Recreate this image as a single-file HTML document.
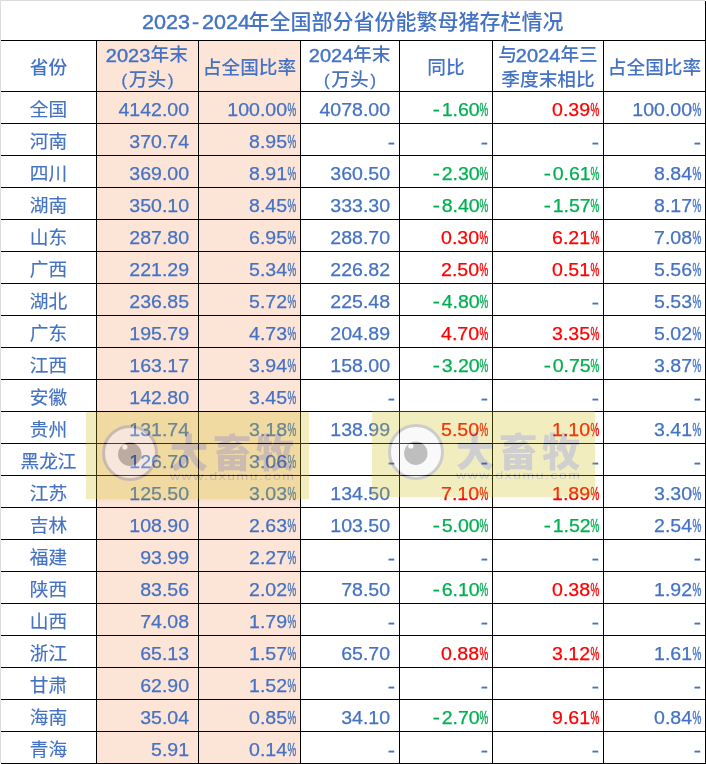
<!DOCTYPE html><html lang="zh-CN"><head><meta charset="utf-8"><title>2023-2024年全国部分省份能繁母猪存栏情况</title>
<style>
html,body{margin:0;padding:0;background:#fff;}
body{width:706px;height:764px;position:relative;overflow:hidden;font-family:"Liberation Sans","Noto Sans CJK SC",sans-serif;color:#4472c4;}
.a{position:absolute;}
.l{position:absolute;background:#000;}
.bg{position:absolute;background:#fce4d6;}
.c{position:absolute;white-space:nowrap;height:32px;line-height:32px;font-size:18.7px;}
.p{text-align:center;font-family:"Noto Sans CJK SC",sans-serif;-webkit-text-stroke:0.15px currentColor;}
.r{text-align:right;}
.n{display:inline-block;position:relative;top:2px;font-family:"Liberation Sans",sans-serif;font-size:18px;transform:scaleX(1.085);transform-origin:100% 50%;-webkit-text-stroke:0.25px currentColor;}
.k{display:inline-block;position:relative;top:1.5px;width:8.3px;text-align:right;direction:rtl;font-family:"Liberation Sans",sans-serif;font-size:18.5px;transform:scaleX(0.53);transform-origin:100% 50%;-webkit-text-stroke:0.45px currentColor;}
.n.z{top:2.9px;transform:scaleX(1.2152);}
.m{display:inline-block;font-style:normal;margin-right:1.7px;transform:scaleX(1.1);transform-origin:100% 50%;}
.g{color:#00b050;}.d{color:#ff0000;}
.h{position:absolute;text-align:center;white-space:nowrap;font-weight:500;font-size:18.7px;line-height:24.4px;font-family:"Liberation Sans","Noto Sans CJK SC",sans-serif;}
.h .e{display:inline-block;position:relative;top:1px;font-size:18px;transform:scaleX(1.11);transform-origin:50% 50%;margin:0 2.5px 0 1px;-webkit-text-stroke:0.4px currentColor;}
.h .pr{display:inline-block;position:relative;top:0px;font-size:16.5px;margin:0 1.8px;-webkit-text-stroke:0.3px currentColor;}
.t{position:absolute;left:0;width:706px;text-align:center;white-space:nowrap;font-weight:500;font-size:21px;line-height:40px;top:1px;height:40px;}
.e2{position:absolute;top:0.6px;font-size:19.5px;transform:scaleX(1.107);transform-origin:0 50%;-webkit-text-stroke:0.4px currentColor;}
.e2.hy{transform:scaleX(1.1);}
.tc{position:absolute;top:0.8px;font-size:21px;letter-spacing:0px;}
.wm{position:absolute;background:#d3c016;opacity:.27;overflow:hidden;box-shadow:0 2px 3px rgba(0,0,0,.12);}
.wm .lg{position:absolute;}
.wt{position:absolute;left:83.8px;top:9.8px;font-family:"Noto Sans CJK SC",sans-serif;font-weight:900;font-size:38.5px;line-height:56px;letter-spacing:4.6px;color:#505050;white-space:nowrap;}
.wu{position:absolute;left:84px;top:57.4px;font-family:"Liberation Sans",sans-serif;font-size:11px;line-height:14px;letter-spacing:1.2px;color:#444;white-space:nowrap;transform:scaleX(1.27);transform-origin:0 50%;}
</style></head><body>
<div class="a" style="left:0;top:0;width:705px;height:1px;background:#dcdcdc"></div>
<div class="a" style="left:0;top:0;width:1px;height:763px;background:#dcdcdc"></div>
<div class="bg" style="left:97px;top:41px;width:203px;height:722px"></div>
<div class="l" style="left:1px;top:40px;width:705px;height:1px"></div>
<div class="l" style="left:1px;top:91px;width:705px;height:1px"></div>
<div class="l" style="left:1px;top:123px;width:705px;height:1px"></div>
<div class="l" style="left:1px;top:155px;width:705px;height:1px"></div>
<div class="l" style="left:1px;top:187px;width:705px;height:1px"></div>
<div class="l" style="left:1px;top:219px;width:705px;height:1px"></div>
<div class="l" style="left:1px;top:251px;width:705px;height:1px"></div>
<div class="l" style="left:1px;top:283px;width:705px;height:1px"></div>
<div class="l" style="left:1px;top:315px;width:705px;height:1px"></div>
<div class="l" style="left:1px;top:347px;width:705px;height:1px"></div>
<div class="l" style="left:1px;top:379px;width:705px;height:1px"></div>
<div class="l" style="left:1px;top:411px;width:705px;height:1px"></div>
<div class="l" style="left:1px;top:443px;width:705px;height:1px"></div>
<div class="l" style="left:1px;top:475px;width:705px;height:1px"></div>
<div class="l" style="left:1px;top:507px;width:705px;height:1px"></div>
<div class="l" style="left:1px;top:539px;width:705px;height:1px"></div>
<div class="l" style="left:1px;top:571px;width:705px;height:1px"></div>
<div class="l" style="left:1px;top:603px;width:705px;height:1px"></div>
<div class="l" style="left:1px;top:635px;width:705px;height:1px"></div>
<div class="l" style="left:1px;top:667px;width:705px;height:1px"></div>
<div class="l" style="left:1px;top:699px;width:705px;height:1px"></div>
<div class="l" style="left:1px;top:731px;width:705px;height:1px"></div>
<div class="l" style="left:1px;top:763px;width:705px;height:1px"></div>
<div class="l" style="left:96px;top:40px;width:1px;height:724px"></div>
<div class="l" style="left:198px;top:40px;width:1px;height:724px"></div>
<div class="l" style="left:300px;top:40px;width:1px;height:724px"></div>
<div class="l" style="left:399px;top:40px;width:1px;height:724px"></div>
<div class="l" style="left:492px;top:40px;width:1px;height:724px"></div>
<div class="l" style="left:603px;top:40px;width:1px;height:724px"></div>
<div class="l" style="left:705px;top:1px;width:1px;height:763px"></div>
<div class="t"><span class="e2" style="left:142.3px">2023</span><span class="e2 hy" style="left:192px">-</span><span class="e2" style="left:201.7px">2024</span><span class="tc" style="left:248.5px">年全国部分省份能繁母猪存栏情况</span></div>
<div class="h" style="left:1px;top:56.0px;width:95px">省份</div>
<div class="h" style="left:97px;top:43.1px;width:101px"><span class="e">2023</span>年末<br><span class="pr">(</span>万头<span class="pr">)</span></div>
<div class="h" style="left:199px;top:56.0px;width:101px">占全国比率</div>
<div class="h" style="left:301px;top:43.1px;width:98px"><span class="e">2024</span>年末<br><span class="pr">(</span>万头<span class="pr">)</span></div>
<div class="h" style="left:400px;top:56.0px;width:92px">同比</div>
<div class="h" style="left:493px;top:43.1px;width:110px">与<span class="e">2024</span>年三<br>季度末相比</div>
<div class="h" style="left:604px;top:56.0px;width:101px">占全国比率</div>
<div class="c p" style="left:1px;top:92.0px;width:95px">全国</div>
<div class="c r" style="left:97px;top:92.0px;width:92.0px"><span class="n">4142.00</span></div>
<div class="c r" style="left:199px;top:92.0px;width:96.8px"><span class="n">100.00</span><span class="k">%</span></div>
<div class="c r" style="left:301px;top:92.0px;width:89.0px"><span class="n">4078.00</span></div>
<div class="c r g" style="left:400px;top:92.0px;width:87.8px"><span class="n"><i class="m">-</i>1.60</span><span class="k">%</span></div>
<div class="c r d" style="left:493px;top:92.0px;width:105.8px"><span class="n">0.39</span><span class="k">%</span></div>
<div class="c r" style="left:604px;top:92.0px;width:96.8px"><span class="n">100.00</span><span class="k">%</span></div>
<div class="c p" style="left:1px;top:124.0px;width:95px">河南</div>
<div class="c r" style="left:97px;top:124.0px;width:92.0px"><span class="n">370.74</span></div>
<div class="c r" style="left:199px;top:124.0px;width:96.8px"><span class="n">8.95</span><span class="k">%</span></div>
<div class="c r" style="left:301px;top:124.0px;width:93.5px"><span class="n z">-</span></div>
<div class="c r" style="left:400px;top:124.0px;width:87.5px"><span class="n z">-</span></div>
<div class="c r" style="left:493px;top:124.0px;width:105.5px"><span class="n z">-</span></div>
<div class="c r" style="left:604px;top:124.0px;width:96.5px"><span class="n z">-</span></div>
<div class="c p" style="left:1px;top:156.0px;width:95px">四川</div>
<div class="c r" style="left:97px;top:156.0px;width:92.0px"><span class="n">369.00</span></div>
<div class="c r" style="left:199px;top:156.0px;width:96.8px"><span class="n">8.91</span><span class="k">%</span></div>
<div class="c r" style="left:301px;top:156.0px;width:89.0px"><span class="n">360.50</span></div>
<div class="c r g" style="left:400px;top:156.0px;width:87.8px"><span class="n"><i class="m">-</i>2.30</span><span class="k">%</span></div>
<div class="c r g" style="left:493px;top:156.0px;width:105.8px"><span class="n"><i class="m">-</i>0.61</span><span class="k">%</span></div>
<div class="c r" style="left:604px;top:156.0px;width:96.8px"><span class="n">8.84</span><span class="k">%</span></div>
<div class="c p" style="left:1px;top:188.0px;width:95px">湖南</div>
<div class="c r" style="left:97px;top:188.0px;width:92.0px"><span class="n">350.10</span></div>
<div class="c r" style="left:199px;top:188.0px;width:96.8px"><span class="n">8.45</span><span class="k">%</span></div>
<div class="c r" style="left:301px;top:188.0px;width:89.0px"><span class="n">333.30</span></div>
<div class="c r g" style="left:400px;top:188.0px;width:87.8px"><span class="n"><i class="m">-</i>8.40</span><span class="k">%</span></div>
<div class="c r g" style="left:493px;top:188.0px;width:105.8px"><span class="n"><i class="m">-</i>1.57</span><span class="k">%</span></div>
<div class="c r" style="left:604px;top:188.0px;width:96.8px"><span class="n">8.17</span><span class="k">%</span></div>
<div class="c p" style="left:1px;top:220.0px;width:95px">山东</div>
<div class="c r" style="left:97px;top:220.0px;width:92.0px"><span class="n">287.80</span></div>
<div class="c r" style="left:199px;top:220.0px;width:96.8px"><span class="n">6.95</span><span class="k">%</span></div>
<div class="c r" style="left:301px;top:220.0px;width:89.0px"><span class="n">288.70</span></div>
<div class="c r d" style="left:400px;top:220.0px;width:87.8px"><span class="n">0.30</span><span class="k">%</span></div>
<div class="c r d" style="left:493px;top:220.0px;width:105.8px"><span class="n">6.21</span><span class="k">%</span></div>
<div class="c r" style="left:604px;top:220.0px;width:96.8px"><span class="n">7.08</span><span class="k">%</span></div>
<div class="c p" style="left:1px;top:252.0px;width:95px">广西</div>
<div class="c r" style="left:97px;top:252.0px;width:92.0px"><span class="n">221.29</span></div>
<div class="c r" style="left:199px;top:252.0px;width:96.8px"><span class="n">5.34</span><span class="k">%</span></div>
<div class="c r" style="left:301px;top:252.0px;width:89.0px"><span class="n">226.82</span></div>
<div class="c r d" style="left:400px;top:252.0px;width:87.8px"><span class="n">2.50</span><span class="k">%</span></div>
<div class="c r d" style="left:493px;top:252.0px;width:105.8px"><span class="n">0.51</span><span class="k">%</span></div>
<div class="c r" style="left:604px;top:252.0px;width:96.8px"><span class="n">5.56</span><span class="k">%</span></div>
<div class="c p" style="left:1px;top:284.0px;width:95px">湖北</div>
<div class="c r" style="left:97px;top:284.0px;width:92.0px"><span class="n">236.85</span></div>
<div class="c r" style="left:199px;top:284.0px;width:96.8px"><span class="n">5.72</span><span class="k">%</span></div>
<div class="c r" style="left:301px;top:284.0px;width:89.0px"><span class="n">225.48</span></div>
<div class="c r g" style="left:400px;top:284.0px;width:87.8px"><span class="n"><i class="m">-</i>4.80</span><span class="k">%</span></div>
<div class="c r" style="left:493px;top:284.0px;width:105.5px"><span class="n z">-</span></div>
<div class="c r" style="left:604px;top:284.0px;width:96.8px"><span class="n">5.53</span><span class="k">%</span></div>
<div class="c p" style="left:1px;top:316.0px;width:95px">广东</div>
<div class="c r" style="left:97px;top:316.0px;width:92.0px"><span class="n">195.79</span></div>
<div class="c r" style="left:199px;top:316.0px;width:96.8px"><span class="n">4.73</span><span class="k">%</span></div>
<div class="c r" style="left:301px;top:316.0px;width:89.0px"><span class="n">204.89</span></div>
<div class="c r d" style="left:400px;top:316.0px;width:87.8px"><span class="n">4.70</span><span class="k">%</span></div>
<div class="c r d" style="left:493px;top:316.0px;width:105.8px"><span class="n">3.35</span><span class="k">%</span></div>
<div class="c r" style="left:604px;top:316.0px;width:96.8px"><span class="n">5.02</span><span class="k">%</span></div>
<div class="c p" style="left:1px;top:348.0px;width:95px">江西</div>
<div class="c r" style="left:97px;top:348.0px;width:92.0px"><span class="n">163.17</span></div>
<div class="c r" style="left:199px;top:348.0px;width:96.8px"><span class="n">3.94</span><span class="k">%</span></div>
<div class="c r" style="left:301px;top:348.0px;width:89.0px"><span class="n">158.00</span></div>
<div class="c r g" style="left:400px;top:348.0px;width:87.8px"><span class="n"><i class="m">-</i>3.20</span><span class="k">%</span></div>
<div class="c r g" style="left:493px;top:348.0px;width:105.8px"><span class="n"><i class="m">-</i>0.75</span><span class="k">%</span></div>
<div class="c r" style="left:604px;top:348.0px;width:96.8px"><span class="n">3.87</span><span class="k">%</span></div>
<div class="c p" style="left:1px;top:380.0px;width:95px">安徽</div>
<div class="c r" style="left:97px;top:380.0px;width:92.0px"><span class="n">142.80</span></div>
<div class="c r" style="left:199px;top:380.0px;width:96.8px"><span class="n">3.45</span><span class="k">%</span></div>
<div class="c r" style="left:301px;top:380.0px;width:93.5px"><span class="n z">-</span></div>
<div class="c r" style="left:400px;top:380.0px;width:87.5px"><span class="n z">-</span></div>
<div class="c r" style="left:493px;top:380.0px;width:105.5px"><span class="n z">-</span></div>
<div class="c r" style="left:604px;top:380.0px;width:96.5px"><span class="n z">-</span></div>
<div class="c p" style="left:1px;top:412.0px;width:95px">贵州</div>
<div class="c r" style="left:97px;top:412.0px;width:92.0px"><span class="n">131.74</span></div>
<div class="c r" style="left:199px;top:412.0px;width:96.8px"><span class="n">3.18</span><span class="k">%</span></div>
<div class="c r" style="left:301px;top:412.0px;width:89.0px"><span class="n">138.99</span></div>
<div class="c r d" style="left:400px;top:412.0px;width:87.8px"><span class="n">5.50</span><span class="k">%</span></div>
<div class="c r d" style="left:493px;top:412.0px;width:105.8px"><span class="n">1.10</span><span class="k">%</span></div>
<div class="c r" style="left:604px;top:412.0px;width:96.8px"><span class="n">3.41</span><span class="k">%</span></div>
<div class="c p" style="left:1px;top:444.0px;width:95px">黑龙江</div>
<div class="c r" style="left:97px;top:444.0px;width:92.0px"><span class="n">126.70</span></div>
<div class="c r" style="left:199px;top:444.0px;width:96.8px"><span class="n">3.06</span><span class="k">%</span></div>
<div class="c r" style="left:301px;top:444.0px;width:93.5px"><span class="n z">-</span></div>
<div class="c r" style="left:400px;top:444.0px;width:87.5px"><span class="n z">-</span></div>
<div class="c r" style="left:493px;top:444.0px;width:105.5px"><span class="n z">-</span></div>
<div class="c r" style="left:604px;top:444.0px;width:96.5px"><span class="n z">-</span></div>
<div class="c p" style="left:1px;top:476.0px;width:95px">江苏</div>
<div class="c r" style="left:97px;top:476.0px;width:92.0px"><span class="n">125.50</span></div>
<div class="c r" style="left:199px;top:476.0px;width:96.8px"><span class="n">3.03</span><span class="k">%</span></div>
<div class="c r" style="left:301px;top:476.0px;width:89.0px"><span class="n">134.50</span></div>
<div class="c r d" style="left:400px;top:476.0px;width:87.8px"><span class="n">7.10</span><span class="k">%</span></div>
<div class="c r d" style="left:493px;top:476.0px;width:105.8px"><span class="n">1.89</span><span class="k">%</span></div>
<div class="c r" style="left:604px;top:476.0px;width:96.8px"><span class="n">3.30</span><span class="k">%</span></div>
<div class="c p" style="left:1px;top:508.0px;width:95px">吉林</div>
<div class="c r" style="left:97px;top:508.0px;width:92.0px"><span class="n">108.90</span></div>
<div class="c r" style="left:199px;top:508.0px;width:96.8px"><span class="n">2.63</span><span class="k">%</span></div>
<div class="c r" style="left:301px;top:508.0px;width:89.0px"><span class="n">103.50</span></div>
<div class="c r g" style="left:400px;top:508.0px;width:87.8px"><span class="n"><i class="m">-</i>5.00</span><span class="k">%</span></div>
<div class="c r g" style="left:493px;top:508.0px;width:105.8px"><span class="n"><i class="m">-</i>1.52</span><span class="k">%</span></div>
<div class="c r" style="left:604px;top:508.0px;width:96.8px"><span class="n">2.54</span><span class="k">%</span></div>
<div class="c p" style="left:1px;top:540.0px;width:95px">福建</div>
<div class="c r" style="left:97px;top:540.0px;width:92.0px"><span class="n">93.99</span></div>
<div class="c r" style="left:199px;top:540.0px;width:96.8px"><span class="n">2.27</span><span class="k">%</span></div>
<div class="c r" style="left:301px;top:540.0px;width:93.5px"><span class="n z">-</span></div>
<div class="c r" style="left:400px;top:540.0px;width:87.5px"><span class="n z">-</span></div>
<div class="c r" style="left:493px;top:540.0px;width:105.5px"><span class="n z">-</span></div>
<div class="c r" style="left:604px;top:540.0px;width:96.5px"><span class="n z">-</span></div>
<div class="c p" style="left:1px;top:572.0px;width:95px">陕西</div>
<div class="c r" style="left:97px;top:572.0px;width:92.0px"><span class="n">83.56</span></div>
<div class="c r" style="left:199px;top:572.0px;width:96.8px"><span class="n">2.02</span><span class="k">%</span></div>
<div class="c r" style="left:301px;top:572.0px;width:89.0px"><span class="n">78.50</span></div>
<div class="c r g" style="left:400px;top:572.0px;width:87.8px"><span class="n"><i class="m">-</i>6.10</span><span class="k">%</span></div>
<div class="c r d" style="left:493px;top:572.0px;width:105.8px"><span class="n">0.38</span><span class="k">%</span></div>
<div class="c r" style="left:604px;top:572.0px;width:96.8px"><span class="n">1.92</span><span class="k">%</span></div>
<div class="c p" style="left:1px;top:604.0px;width:95px">山西</div>
<div class="c r" style="left:97px;top:604.0px;width:92.0px"><span class="n">74.08</span></div>
<div class="c r" style="left:199px;top:604.0px;width:96.8px"><span class="n">1.79</span><span class="k">%</span></div>
<div class="c r" style="left:301px;top:604.0px;width:93.5px"><span class="n z">-</span></div>
<div class="c r" style="left:400px;top:604.0px;width:87.5px"><span class="n z">-</span></div>
<div class="c r" style="left:493px;top:604.0px;width:105.5px"><span class="n z">-</span></div>
<div class="c r" style="left:604px;top:604.0px;width:96.5px"><span class="n z">-</span></div>
<div class="c p" style="left:1px;top:636.0px;width:95px">浙江</div>
<div class="c r" style="left:97px;top:636.0px;width:92.0px"><span class="n">65.13</span></div>
<div class="c r" style="left:199px;top:636.0px;width:96.8px"><span class="n">1.57</span><span class="k">%</span></div>
<div class="c r" style="left:301px;top:636.0px;width:89.0px"><span class="n">65.70</span></div>
<div class="c r d" style="left:400px;top:636.0px;width:87.8px"><span class="n">0.88</span><span class="k">%</span></div>
<div class="c r d" style="left:493px;top:636.0px;width:105.8px"><span class="n">3.12</span><span class="k">%</span></div>
<div class="c r" style="left:604px;top:636.0px;width:96.8px"><span class="n">1.61</span><span class="k">%</span></div>
<div class="c p" style="left:1px;top:668.0px;width:95px">甘肃</div>
<div class="c r" style="left:97px;top:668.0px;width:92.0px"><span class="n">62.90</span></div>
<div class="c r" style="left:199px;top:668.0px;width:96.8px"><span class="n">1.52</span><span class="k">%</span></div>
<div class="c r" style="left:301px;top:668.0px;width:93.5px"><span class="n z">-</span></div>
<div class="c r" style="left:400px;top:668.0px;width:87.5px"><span class="n z">-</span></div>
<div class="c r" style="left:493px;top:668.0px;width:105.5px"><span class="n z">-</span></div>
<div class="c r" style="left:604px;top:668.0px;width:96.5px"><span class="n z">-</span></div>
<div class="c p" style="left:1px;top:700.0px;width:95px">海南</div>
<div class="c r" style="left:97px;top:700.0px;width:92.0px"><span class="n">35.04</span></div>
<div class="c r" style="left:199px;top:700.0px;width:96.8px"><span class="n">0.85</span><span class="k">%</span></div>
<div class="c r" style="left:301px;top:700.0px;width:89.0px"><span class="n">34.10</span></div>
<div class="c r g" style="left:400px;top:700.0px;width:87.8px"><span class="n"><i class="m">-</i>2.70</span><span class="k">%</span></div>
<div class="c r d" style="left:493px;top:700.0px;width:105.8px"><span class="n">9.61</span><span class="k">%</span></div>
<div class="c r" style="left:604px;top:700.0px;width:96.8px"><span class="n">0.84</span><span class="k">%</span></div>
<div class="c p" style="left:1px;top:732.0px;width:95px">青海</div>
<div class="c r" style="left:97px;top:732.0px;width:92.0px"><span class="n">5.91</span></div>
<div class="c r" style="left:199px;top:732.0px;width:96.8px"><span class="n">0.14</span><span class="k">%</span></div>
<div class="c r" style="left:301px;top:732.0px;width:93.5px"><span class="n z">-</span></div>
<div class="c r" style="left:400px;top:732.0px;width:87.5px"><span class="n z">-</span></div>
<div class="c r" style="left:493px;top:732.0px;width:105.5px"><span class="n z">-</span></div>
<div class="c r" style="left:604px;top:732.0px;width:96.5px"><span class="n z">-</span></div>
<div class="wm" style="left:86px;top:412px;width:223px;height:87px">
<svg class="lg" width="60" height="60" viewBox="0 0 60 60" style="left:13.7px;top:11.4px"><circle cx="30" cy="30" r="26.5" fill="#ececec" stroke="#484848" stroke-width="3"/><circle cx="29.8" cy="31.3" r="11.7" fill="#141414"/><circle cx="24.9" cy="24" r="2.6" fill="#fff"/></svg>
<div class="wt">大畜牧</div>
<div class="wu">www.dxumu.com</div>
</div>
<div class="wm" style="left:372px;top:411px;width:223px;height:86px">
<svg class="lg" width="60" height="60" viewBox="0 0 60 60" style="left:13.7px;top:11.4px"><circle cx="30" cy="30" r="26.5" fill="#ececec" stroke="#484848" stroke-width="3"/><circle cx="29.8" cy="31.3" r="11.7" fill="#141414"/><circle cx="24.9" cy="24" r="2.6" fill="#fff"/></svg>
<div class="wt">大畜牧</div>
<div class="wu">www.dxumu.com</div>
</div>
</body></html>
